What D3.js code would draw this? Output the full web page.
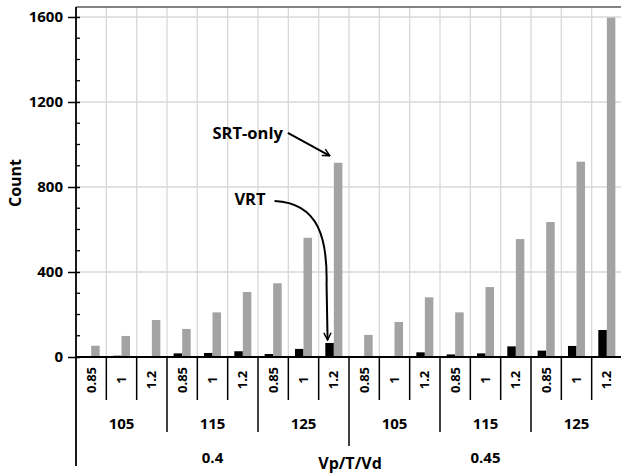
<!DOCTYPE html>
<meta charset="utf-8">
<head>
  <title>VRT vs SRT-only counts</title>
</head>

<style>
  body {
    margin: 0;
    background: #fff;
  }
  svg text {
    font-family: "Open Sans", sans-serif;
    font-weight: bold;
    fill: #000;
  }
</style>

<body>
<svg id="chart" width="621" height="475"></svg>

<script src="https://cdnjs.cloudflare.com/ajax/libs/d3/7.8.5/d3.min.js"></script>
<script>
  // category levels: Vp / T / Vd
  var vpLevels = ["0.4", "0.45"];
  var tLevels = ["105", "115", "125"];
  var vdLevels = ["0.85", "1", "1.2"];

  // counts, in category order (Vp, then T, then Vd)
  var srtOnly = [53, 99, 174, 132, 210, 306, 347, 561, 914,
                 104, 165, 281, 210, 329, 555, 635, 919, 1597];
  var vrt = [0, 6, 1, 17, 19, 27, 14, 38, 66,
             0, 4, 22, 12, 17, 50, 30, 52, 127];

  var yTicks = [0, 400, 800, 1200, 1600];
  var yMinor = d3.range(100, 1700, 100).filter(function(v) { return v % 400 !== 0; });

  var cats = [];
  vpLevels.forEach(function(vp) {
    tLevels.forEach(function(t) {
      vdLevels.forEach(function(vd) {
        cats.push({ vp: vp, t: t, vd: vd, key: vp + "/" + t + "/" + vd });
      });
    });
  });
  cats.forEach(function(c, i) {
    c.vrt = vrt[i];
    c.srt = srtOnly[i];
  });

  var svg = d3.select("#chart");
  var plotL = 76, plotR = 622, plotT = 7, plotB = 357;

  var x = d3.scaleBand()
    .domain(cats.map(function(c) { return c.key; }))
    .range([plotL, plotR]);

  var inner = d3.scaleBand()
    .domain(["vrt", "srt"])
    .range([0, x.bandwidth()])
    .paddingOuter(0.78);

  var y = d3.scaleLinear()
    .domain([0, 1647])
    .range([plotB, plotT]);

  // grid
  var grid = svg.append("g");
  grid.selectAll(".hg")
    .data(yTicks.slice(1))
    .enter()
    .append("line")
    .attr("x1", plotL)
    .attr("x2", plotR)
    .attr("y1", function(d) { return y(d); })
    .attr("y2", function(d) { return y(d); })
    .attr("stroke", "#d9d9d9")
    .attr("stroke-width", 1.3);

  grid.selectAll(".vg")
    .data(cats.slice(1))
    .enter()
    .append("line")
    .attr("x1", function(d) { return x(d.key); })
    .attr("x2", function(d) { return x(d.key); })
    .attr("y1", plotT)
    .attr("y2", plotB)
    .attr("stroke", "#d9d9d9")
    .attr("stroke-width", 1.3);

  // top border
  svg.append("line")
    .attr("x1", plotL)
    .attr("x2", plotR)
    .attr("y1", plotT)
    .attr("y2", plotT)
    .attr("stroke", "#5a5a5a")
    .attr("stroke-width", 1.5);

  // bars
  var groups = svg.append("g")
    .selectAll("g")
    .data(cats)
    .enter()
    .append("g")
    .attr("transform", function(d) { return "translate(" + x(d.key) + ",0)"; });

  groups.append("rect")
    .attr("x", inner("vrt"))
    .attr("width", inner.bandwidth())
    .attr("y", function(d) { return y(d.vrt); })
    .attr("height", function(d) { return y(0) - y(d.vrt); })
    .attr("fill", "#000");

  groups.append("rect")
    .attr("x", inner("srt"))
    .attr("width", inner.bandwidth())
    .attr("y", function(d) { return y(d.srt); })
    .attr("height", function(d) { return y(0) - y(d.srt); })
    .attr("fill", "#a3a3a3");

  // y axis
  var yAxis = svg.append("g")
    .attr("transform", "translate(" + plotL + ",0)")
    .call(d3.axisLeft(y).tickValues(yTicks).tickFormat(d3.format("d")).tickSize(8).tickPadding(5));
  yAxis.select(".domain").remove();
  yAxis.selectAll(".tick line").attr("stroke", "#000").attr("stroke-width", 1.5).attr("x2", -8).attr("x1", 4);
  yAxis.selectAll(".tick text")
    .style("font-size", "15px");

  svg.append("g")
    .selectAll("line")
    .data(yMinor)
    .enter()
    .append("line")
    .attr("x1", plotL)
    .attr("x2", plotL + 4)
    .attr("y1", function(d) { return y(d); })
    .attr("y2", function(d) { return y(d); })
    .attr("stroke", "#000")
    .attr("stroke-width", 1.3);

  svg.append("line")
    .attr("x1", plotL)
    .attr("x2", plotL)
    .attr("y1", plotT)
    .attr("y2", 466)
    .attr("stroke", "#000")
    .attr("stroke-width", 1.8);

  svg.append("line")
    .attr("x1", plotL)
    .attr("x2", plotR)
    .attr("y1", plotB)
    .attr("y2", plotB)
    .attr("stroke", "#000")
    .attr("stroke-width", 1.8);

  svg.append("text")
    .attr("transform", "translate(21," + 183 + ") rotate(-90)")
    .attr("text-anchor", "middle")
    .style("font-size", "16px")
    .text("Count");

  // multi-level x axis
  var xa = svg.append("g");
  var step = x.step();

  xa.selectAll(".vd")
    .data(cats)
    .enter()
    .append("text")
    .attr("transform", function(d) {
      return "translate(" + (x(d.key) + step / 2 + 4.5) + ",380) rotate(-90)";
    })
    .attr("text-anchor", "middle")
    .style("font-size", "13px")
    .text(function(d) { return d.vd; });

  // separators: length depends on how high the level boundary is
  xa.selectAll(".sep")
    .data(cats.slice(1))
    .enter()
    .append("line")
    .attr("x1", function(d) { return x(d.key); })
    .attr("x2", function(d) { return x(d.key); })
    .attr("y1", plotB)
    .attr("y2", function(d, i) {
      var idx = i + 1;
      if (idx % 9 === 0) return 446;
      if (idx % 3 === 0) return 432;
      return 400;
    })
    .attr("stroke", "#000")
    .attr("stroke-width", 1.5);

  var tGroups = [];
  vpLevels.forEach(function(vp) {
    tLevels.forEach(function(t) {
      var members = cats.filter(function(c) { return c.vp === vp && c.t === t; });
      tGroups.push({ label: t, x0: x(members[0].key), x1: x(members[members.length - 1].key) + step });
    });
  });

  xa.selectAll(".tl")
    .data(tGroups)
    .enter()
    .append("text")
    .attr("x", function(d) { return (d.x0 + d.x1) / 2; })
    .attr("y", 429)
    .attr("text-anchor", "middle")
    .style("font-size", "15px")
    .text(function(d) { return d.label; });

  var vpGroups = vpLevels.map(function(vp) {
    var members = cats.filter(function(c) { return c.vp === vp; });
    return { label: vp, x0: x(members[0].key), x1: x(members[members.length - 1].key) + step };
  });

  xa.selectAll(".vl")
    .data(vpGroups)
    .enter()
    .append("text")
    .attr("x", function(d) { return (d.x0 + d.x1) / 2; })
    .attr("y", 463)
    .attr("text-anchor", "middle")
    .style("font-size", "15px")
    .text(function(d) { return d.label; });

  svg.append("text")
    .attr("x", vpGroups[0].x1 + 1)
    .attr("y", 469)
    .attr("text-anchor", "middle")
    .style("font-size", "16px")
    .text("Vp/T/Vd");

  // annotations
  svg.append("defs").append("marker")
    .attr("id", "arrow")
    .attr("viewBox", "0 0 10 10")
    .attr("refX", 9)
    .attr("refY", 5)
    .attr("markerWidth", 9)
    .attr("markerHeight", 9)
    .attr("orient", "auto")
    .attr("markerUnits", "userSpaceOnUse")
    .append("path")
    .attr("d", "M1,1 L9,5 L1,9")
    .attr("fill", "none")
    .attr("stroke", "#000")
    .attr("stroke-width", 1.6);

  var target = cats[8];
  var sx = x(target.key) + inner("srt") - 4;
  var sy = y(target.srt) - 7;
  svg.append("path")
    .attr("d", "M" + (sx - 42) + "," + (sy - 23) + " L" + sx + "," + sy)
    .attr("fill", "none")
    .attr("stroke", "#000")
    .attr("stroke-width", 2)
    .attr("marker-end", "url(#arrow)");

  svg.append("text")
    .attr("x", sx - 47)
    .attr("y", sy - 17)
    .attr("text-anchor", "end")
    .style("font-size", "16.5px")
    .text("SRT-only");

  var vx = x(target.key) + inner("vrt") + inner.bandwidth() / 2 - 2;
  var vy = y(target.vrt) - 3;
  svg.append("path")
    .attr("d", "M" + (vx - 53) + ",201 C" + (vx - 8) + ",203 " + (vx) + ",240 " + (vx - 1) + ",285 L" + vx + "," + vy)
    .attr("fill", "none")
    .attr("stroke", "#000")
    .attr("stroke-width", 2)
    .attr("marker-end", "url(#arrow)");

  svg.append("text")
    .attr("x", vx - 62)
    .attr("y", 205)
    .attr("text-anchor", "end")
    .style("font-size", "16.5px")
    .text("VRT");
</script>
</body>
</html>
